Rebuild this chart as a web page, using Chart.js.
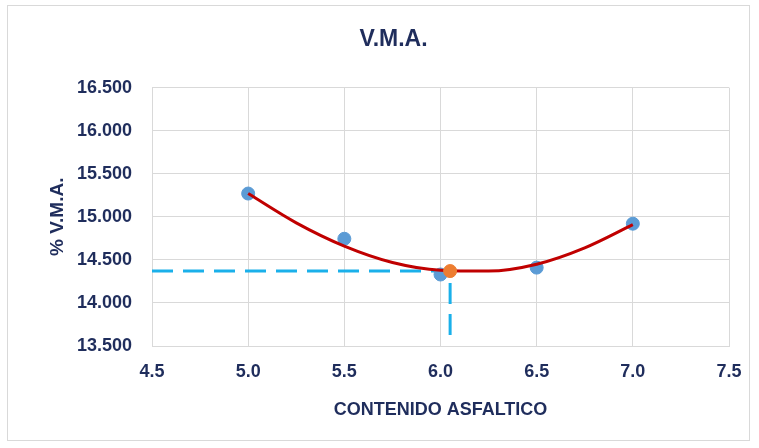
<!DOCTYPE html>
<html>
<head>
<meta charset="utf-8">
<script src="https://cdn.jsdelivr.net/npm/chart.js@4/dist/chart.umd.min.js"></script>
<style>
  html, body { margin: 0; padding: 0; background: #ffffff; }
  #wrap { position: relative; width: 759px; height: 448px; }
  #frame { position: absolute; left: 7px; top: 5px; width: 743px; height: 436px; border: 1px solid #d9d9d9; box-sizing: border-box; pointer-events: none; }
  canvas { display: block; }
</style>
</head>
<body>
<div id="wrap">
  <canvas id="chart" width="759" height="448"></canvas>
  <div id="frame"></div>
</div>
<script>
// Asphalt content (%) of each test specimen and its voids in mineral aggregate
const asphaltContent = [5.0, 5.5, 6.0, 6.5, 7.0];
const vmaValues = [15.27, 14.745, 14.33, 14.41, 14.92];

// Polynomial trend line, sampled along the asphalt content range
const trendContent = [5.0, 5.25, 5.5, 5.75, 6.0, 6.25, 6.5, 6.75, 7.0];
const trendVma = [15.27, 14.93, 14.66, 14.47, 14.38, 14.37, 14.45, 14.64, 14.91];

// Design (optimum) asphalt content and its V.M.A.
const optimumContent = 6.05;
const optimumVma = 14.37;
const guideBottom = 13.57;

// Axis tick values
const xTicks = [4.5, 5.0, 5.5, 6.0, 6.5, 7.0, 7.5];
const yTicks = [13.5, 14.0, 14.5, 15.0, 15.5, 16.0, 16.5];

const navy = '#1f2d5c';
const fontFamily = '"Liberation Sans", Arial, sans-serif';

const points = asphaltContent.map((x, i) => ({ x, y: vmaValues[i] }));
const trend = trendContent.map((x, i) => ({ x, y: trendVma[i] }));
const guide = [
  { x: xTicks[0], y: optimumVma },
  { x: optimumContent, y: optimumVma },
  { x: optimumContent, y: guideBottom }
];

new Chart(document.getElementById('chart'), {
  type: 'scatter',
  data: {
    datasets: [
      {
        label: 'Guía',
        type: 'line',
        data: guide,
        borderColor: '#1ab0ea',
        borderWidth: 3,
        borderDash: [21, 10],
        pointRadius: 0,
        fill: false,
        tension: 0,
        order: 3
      },
      {
        label: 'V.M.A.',
        data: points,
        backgroundColor: '#5b9bd5',
        borderColor: '#5b9bd5',
        pointRadius: 6.5,
        pointHoverRadius: 6.5,
        order: 2
      },
      {
        label: 'Tendencia',
        type: 'line',
        data: trend,
        borderColor: '#c00000',
        borderWidth: 3,
        pointRadius: 0,
        cubicInterpolationMode: 'monotone',
        fill: false,
        order: 1
      },
      {
        label: 'Óptimo',
        data: [{ x: optimumContent, y: optimumVma }],
        backgroundColor: '#ed7d31',
        borderColor: '#ed7d31',
        pointRadius: 6.5,
        pointHoverRadius: 6.5,
        order: 0
      }
    ]
  },
  options: {
    responsive: false,
    animation: false,
    layout: { padding: { left: 34, right: 6, top: 0, bottom: 20 } },
    plugins: {
      legend: { display: false },
      tooltip: { enabled: false },
      title: {
        display: true,
        text: 'V.M.A.',
        color: navy,
        font: { family: fontFamily, size: 23, weight: 'bold' },
        padding: { top: 26, bottom: 34 }
      }
    },
    scales: {
      x: {
        type: 'linear',
        min: xTicks[0],
        max: xTicks[xTicks.length - 1],
        afterBuildTicks: s => { s.ticks = xTicks.map(v => ({ value: v })); },
        afterFit: s => { s.height = 82; },
        grid: { color: '#d9d9d9', drawTicks: false },
        border: { color: '#d9d9d9' },
        ticks: {
          padding: 15,
          color: navy,
          font: { family: fontFamily, size: 18, weight: 'bold' },
          callback: v => Number(v).toFixed(1)
        },
        title: {
          display: true,
          text: 'CONTENIDO ASFALTICO',
          color: navy,
          font: { family: fontFamily, size: 18, weight: 'bold' },
          padding: { top: 0, bottom: 7 }
        }
      },
      y: {
        type: 'linear',
        min: yTicks[0],
        max: yTicks[yTicks.length - 1],
        afterBuildTicks: s => { s.ticks = yTicks.map(v => ({ value: v })); },
        afterFit: s => { s.width = 118; },
        grid: { color: '#d9d9d9', drawTicks: false },
        border: { color: '#d9d9d9' },
        ticks: {
          padding: 20,
          color: navy,
          font: { family: fontFamily, size: 18, weight: 'bold' },
          callback: v => Number(v).toFixed(3)
        },
        title: {
          display: true,
          text: '% V.M.A.',
          color: navy,
          font: { family: fontFamily, size: 19, weight: 'bold' },
          padding: { top: 12, bottom: 0 }
        }
      },
      // Empty right-hand axis that reserves the margin beside the plot
      yRight: {
        type: 'linear',
        position: 'right',
        min: yTicks[0],
        max: yTicks[yTicks.length - 1],
        afterFit: s => { s.width = 24; },
        grid: { display: false, drawTicks: false },
        border: { display: false },
        ticks: { display: false }
      }
    }
  }
});
</script>
</body>
</html>
